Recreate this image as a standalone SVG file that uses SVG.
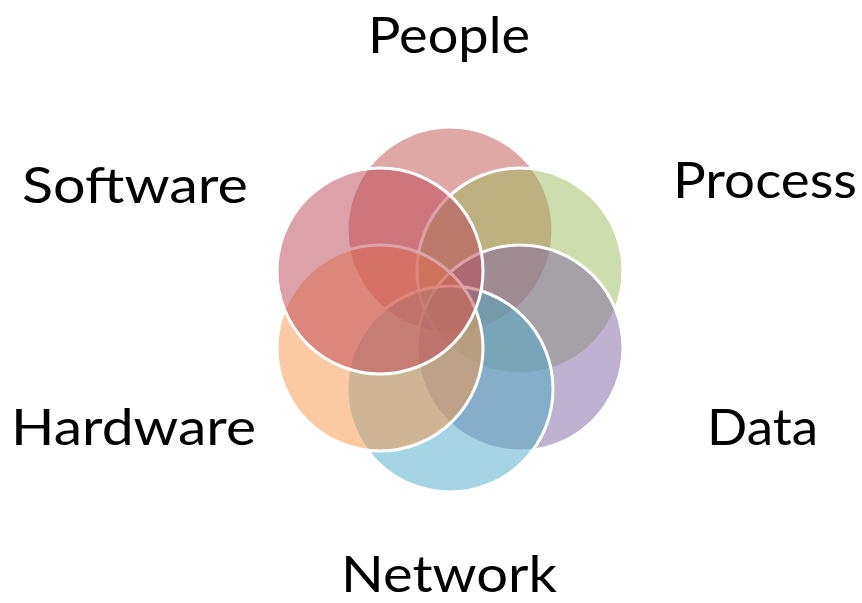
<svg xmlns="http://www.w3.org/2000/svg" width="862" height="603" viewBox="0 0 862 603">
<style>
.c{fill-opacity:0.5;stroke:#ffffff;stroke-width:3}
.t{font-family:Lato,"Open Sans","Liberation Sans",sans-serif;font-size:50px;fill:#000000}
</style>
<rect width="862" height="603" fill="#ffffff"/>
<g id="people"><circle class="c" cx="450" cy="230" r="103" fill="#C0504D"/></g>
<g id="process"><circle class="c" cx="520" cy="271" r="103" fill="#9BBB59"/></g>
<g id="data"><circle class="c" cx="520" cy="348" r="103" fill="#8064A2"/></g>
<g id="network"><circle class="c" cx="450" cy="389" r="103" fill="#4BACC6"/></g>
<g id="hardware"><circle class="c" cx="380" cy="348" r="103" fill="#F79646"/></g>
<g id="software"><circle class="c" cx="380" cy="271" r="103" fill="#BC4553"/></g>
<g id="connectors"/>
<g id="labels">
<text class="t" x="368" y="53" textLength="162" lengthAdjust="spacingAndGlyphs">People</text>
<text class="t" x="22" y="203" textLength="226" lengthAdjust="spacingAndGlyphs">Software</text>
<text class="t" x="673" y="198" textLength="184" lengthAdjust="spacingAndGlyphs">Process</text>
<text class="t" x="11" y="445" textLength="245" lengthAdjust="spacingAndGlyphs">Hardware</text>
<text class="t" x="707" y="445" textLength="111" lengthAdjust="spacingAndGlyphs">Data</text>
<text class="t" x="341" y="592" textLength="216" lengthAdjust="spacingAndGlyphs">Network</text>
</g>
</svg>
